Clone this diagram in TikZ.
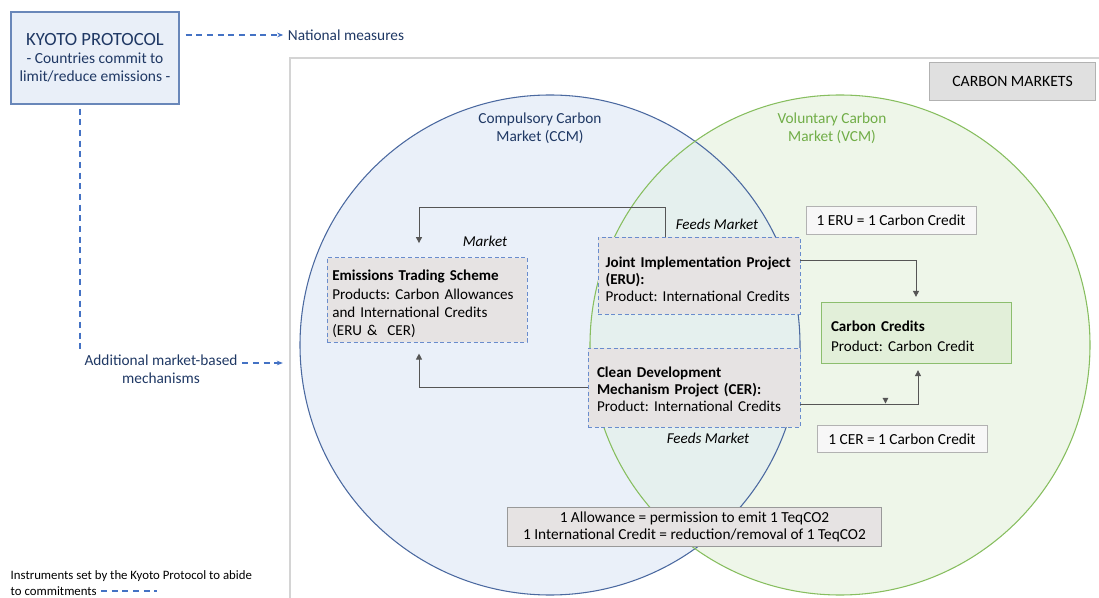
\documentclass[tikz,border=0pt]{standalone}
\usepackage{fontspec}
\setmainfont{Carlito}
\frenchspacing
\usetikzlibrary{positioning,arrows.meta,decorations.markings}
\definecolor{KyotoNavy}{RGB}{31,56,100}
\definecolor{KyotoEdge}{RGB}{105,135,185}
\definecolor{KyotoFill}{RGB}{233,239,248}
\definecolor{DashBlue}{RGB}{68,114,196}
\definecolor{CCMEdge}{RGB}{75,105,160}
\definecolor{CCMFill}{RGB}{234,240,249}
\definecolor{VCMEdge}{RGB}{135,190,95}
\definecolor{VCMFill}{RGB}{238,246,233}
\definecolor{BothFill}{RGB}{229,240,238}
\definecolor{VCMText}{RGB}{112,173,71}
\definecolor{SchemeEdge}{RGB}{105,140,205}
\definecolor{SchemeFill}{RGB}{230,227,227}
\definecolor{CreditEdge}{RGB}{140,190,110}
\definecolor{CreditFill}{RGB}{226,239,217}
\definecolor{ConnGray}{RGB}{85,85,85}
\definecolor{FrameGray}{RGB}{212,212,212}

\begin{document}
\begin{tikzpicture}[
    x=0.75pt, y=-0.75pt,
    font=\fontsize{11.3}{13.8}\selectfont,
    kyoto/.style={
        rectangle,
        draw=KyotoEdge,
        fill=KyotoFill,
        line width=0.8pt,
        align=center,
        text=KyotoNavy,
        font=\fontsize{11.6}{13.5}\selectfont,
        minimum width=126pt,
        minimum height=69pt
    },
    frame/.style={
        rectangle,
        draw=FrameGray,
        line width=0.8pt,
        minimum width=615pt,
        minimum height=414pt
    },
    tag/.style={
        rectangle,
        draw=black!30,
        fill=black!12,
        line width=0.6pt,
        font=\fontsize{11.8}{14}\selectfont,
        minimum width=125pt,
        minimum height=29pt
    },
    scheme/.style={
        rectangle,
        draw=SchemeEdge,
        dash pattern=on 3pt off 2pt,
        fill=SchemeFill,
        line width=0.7pt,
        align=left
    },
    credit/.style={
        rectangle,
        draw=CreditEdge,
        fill=CreditFill,
        line width=0.7pt,
        align=left
    },
    note/.style={
        rectangle,
        draw=black!30,
        fill=black!3,
        line width=0.6pt,
        font=\fontsize{11.5}{14}\selectfont,
        minimum width=127.5pt,
        minimum height=20.5pt
    },
    units/.style={
        rectangle,
        draw=black!40,
        fill=SchemeFill,
        line width=0.6pt,
        align=center,
        font=\fontsize{11.5}{12.75}\selectfont,
        minimum width=281pt,
        minimum height=28.5pt
    },
    feed/.style={
        font=\fontsize{11.3}{13}\selectfont\itshape
    },
    navytext/.style={
        text=KyotoNavy,
        font=\fontsize{11.5}{13.5}\selectfont
    },
    conn/.style={
        draw=ConnGray,
        line width=0.7pt,
        -{Triangle[length=4.5pt,width=4.5pt]}
    },
    dasharrow/.style={
        draw=DashBlue,
        line width=0.8pt,
        dash pattern=on 4.5pt off 3.5pt,
        -{Stealth[length=4.5pt,width=3.5pt]}
    },
    dashline/.style={
        draw=DashBlue,
        line width=0.8pt,
        dash pattern=on 4.5pt off 3.5pt
    }
]
\useasboundingbox (0,0) rectangle (1099,598);

% markets area
\node[frame] (markets) at (700,334) {};
\node[tag] (tag) at (1012.5,81.5) {CARBON MARKETS};

% compulsory / voluntary markets
\node[circle, fill=CCMFill, minimum size=375pt] (ccm) at (550,345) {};
\node[circle, fill=VCMFill, minimum size=375pt] (vcm) at (840,345) {};
\begin{scope}
    \clip (ccm.center) circle[radius=187.5pt];
    \fill[BothFill] (vcm.center) circle[radius=187.5pt];
\end{scope}
\draw[CCMEdge, line width=0.8pt] (ccm.center) circle[radius=187.5pt];
\draw[VCMEdge, line width=0.8pt] (vcm.center) circle[radius=187.5pt];

\node[align=center, text=KyotoNavy, font=\fontsize{11.5}{13.5}\selectfont] (ccmtitle) at (540,128)
    {Compulsory Carbon\\Market (CCM)};
\node[align=center, text=VCMText, font=\fontsize{11.5}{13.5}\selectfont] (vcmtitle) at (832,128)
    {Voluntary Carbon\\Market (VCM)};

% Kyoto instruments
\node[kyoto] (kyoto) at (95,58)
    {{\fontsize{14}{16}\selectfont KYOTO PROTOCOL}\\- Countries commit to\\limit/reduce emissions -};
\node[navytext] (national) at (346,35) {National measures};
\node[navytext, align=center] (additional) at (161,369) {Additional market-based\\mechanisms};

\draw[dasharrow, shorten <=4.5pt] (kyoto.east |- national.west) -- (national.west);
\coordinate (kdrop) at ([xshift=-11.25pt]kyoto.south);
\draw[dashline] ([yshift=-3pt]kdrop) -- (kdrop |- additional.north);
\coordinate (addout) at ([yshift=4.5pt]additional.east);
\draw[dasharrow, shorten >=5pt] (addout) -- (addout -| markets.west);

% schemes and projects
\node[scheme, text width=142pt, inner xsep=4pt, minimum height=63pt] (ets) at (427,300)
    {\rule{0pt}{14pt}\textbf{Emissions Trading Scheme}\\Products: Carbon Allowances\\and International Credits\\(ERU \&\ \ CER)};
\node[scheme, text width=140pt, inner xsep=5.75pt, minimum height=57.75pt,
      font=\fontsize{11.3}{12.75}\selectfont] (ji) at (699,275.5)
    {\rule{0pt}{14pt}\textbf{Joint Implementation Project}\\\textbf{(ERU):}\\Product: International Credits};
\node[scheme, text width=145.5pt, inner xsep=6.75pt, minimum height=59.25pt,
      font=\fontsize{11.3}{12.75}\selectfont] (cdm) at (694,387.5)
    {\rule{0pt}{11pt}\textbf{Clean Development}\\\textbf{Mechanism Project (CER):}\\Product: International Credits};
\node[credit, text width=127.5pt, inner xsep=7.5pt, minimum height=45.75pt,
      font=\fontsize{11.3}{15}\selectfont] (cc) at (916,332.5)
    {\rule{0pt}{14pt}\textbf{Carbon Credits}\\Product: Carbon Credit};

\node[feed] (marketlbl) at (485,241) {Market};
\node[feed] (feedtop) at (717,224) {Feeds Market};
\node[feed] (feedbot) at (708,438) {Feeds Market};

\node[note] (eru) at (891,220.5) {1 ERU = 1 Carbon Credit};
\node[note] (cer) at (902,439) {1 CER = 1 Carbon Credit};

\node[units] (unitbox) at (694.5,527)
    {1 Allowance = permission to emit 1 TeqCO2\\1 International Credit = reduction/removal of 1 TeqCO2};

% flows between the boxes
\draw[conn, shorten >=10.5pt] ([xshift=-25.5pt]ji.north) -- ++(0,21.75pt) -| ([xshift=-6pt]ets.north);
\draw[conn, shorten >=8pt] (cdm.west) -| ([xshift=-6pt]ets.south);
\draw[conn, shorten >=3.5pt] ([yshift=10.9pt]ji.east) -| (cc.north);
\draw[conn, shorten >=5pt, postaction={decorate},
      decoration={markings, mark=at position 63.75pt with
          {\fill[ConnGray] (-2.2pt,4.6pt) -- (2.2pt,4.6pt) -- (0,0.4pt) -- cycle;}}]
    ([yshift=-12.4pt]cdm.east) -| ([xshift=1.5pt]cc.south);

% legend
\node[anchor=west, align=left, font=\fontsize{9.6}{11.6}\selectfont] (legend) at (6,583)
    {Instruments set by the Kyoto Protocol to abide\\to commitments};
\coordinate (legA) at (101,591);
\draw[dashline] (legA) -- ++(42pt,0);

\end{tikzpicture}
\end{document}
